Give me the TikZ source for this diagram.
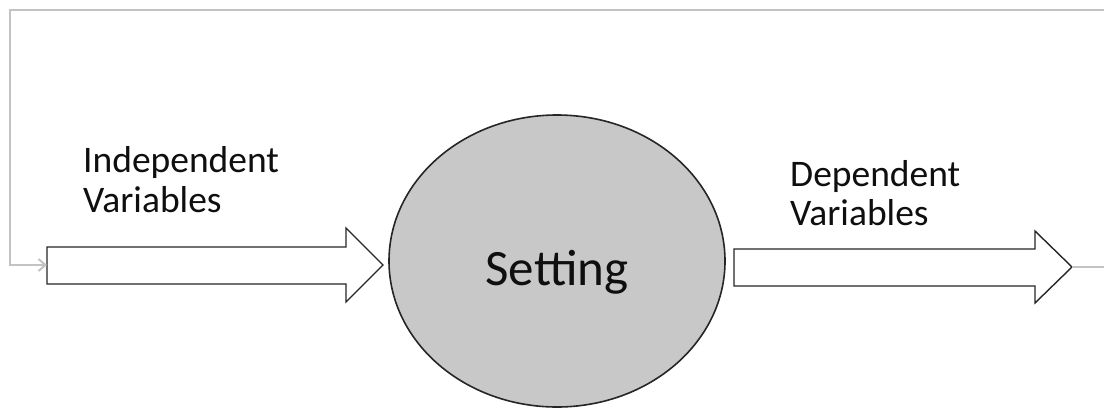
\documentclass[tikz,border=0pt]{standalone}
\usepackage{fontspec}
\setmainfont{Carlito}
\usetikzlibrary{shapes.geometric,arrows.meta}
\definecolor{fillgray}{RGB}{200,200,200}
\definecolor{linegray}{RGB}{195,195,195}
\definecolor{txt}{RGB}{15,15,15}
\begin{document}
\begin{tikzpicture}[x=1pt,y=-1pt,
  blockarrow/.style={draw=black!85,line width=1.4pt,fill=white,line join=miter},
  feedback/.style={draw=linegray,line width=2pt},
  lbl/.style={anchor=base west,align=left,font=\fontsize{37.5}{40}\selectfont,text=txt,inner sep=0pt}]
\useasboundingbox (0,0) rectangle (1104,408);
\fill[white] (0,0) rectangle (1104,408);
% setting ellipse
\node[ellipse,draw=black!85,line width=1.6pt,fill=fillgray,minimum width=336pt,minimum height=292pt,inner sep=0pt] (setting) at (557,261) {};
\node[font=\fontsize{51}{51}\selectfont,text=txt,anchor=base] (settinglbl) at (557,285) {Setting};
% left block arrow
\coordinate (inTail) at (47,265);
\coordinate (inTip) at (383,265);
\draw[blockarrow] (47,247) -- (346,247) -- (346,228) -- (inTip) -- (346,302) -- (346,284) -- (47,284) -- cycle;
% right block arrow
\coordinate (outTail) at (734,267);
\coordinate (outTip) at (1072,267);
\draw[blockarrow] (734,249) -- (1035,249) -- (1035,231) -- (outTip) -- (1035,303) -- (1035,286) -- (734,286) -- cycle;
% feedback loop
\coordinate (topR) at (1104,10);
\coordinate (rightEnd) at (1104,267);
\draw[feedback] (outTip) -- (rightEnd);
\draw[feedback,-{Straight Barb[length=7pt,width=12pt,line width=2pt]}] (topR) -- (10,10) -- (10,265) -- (inTail);
% labels
\node[lbl] (indep1) at (83,172) {Independent};
\node[lbl] (indep2) at (83,212) {Variables};
\node[lbl] (dep1) at (790,186) {Dependent};
\node[lbl] (dep2) at (790,225) {Variables};
\end{tikzpicture}
\end{document}
